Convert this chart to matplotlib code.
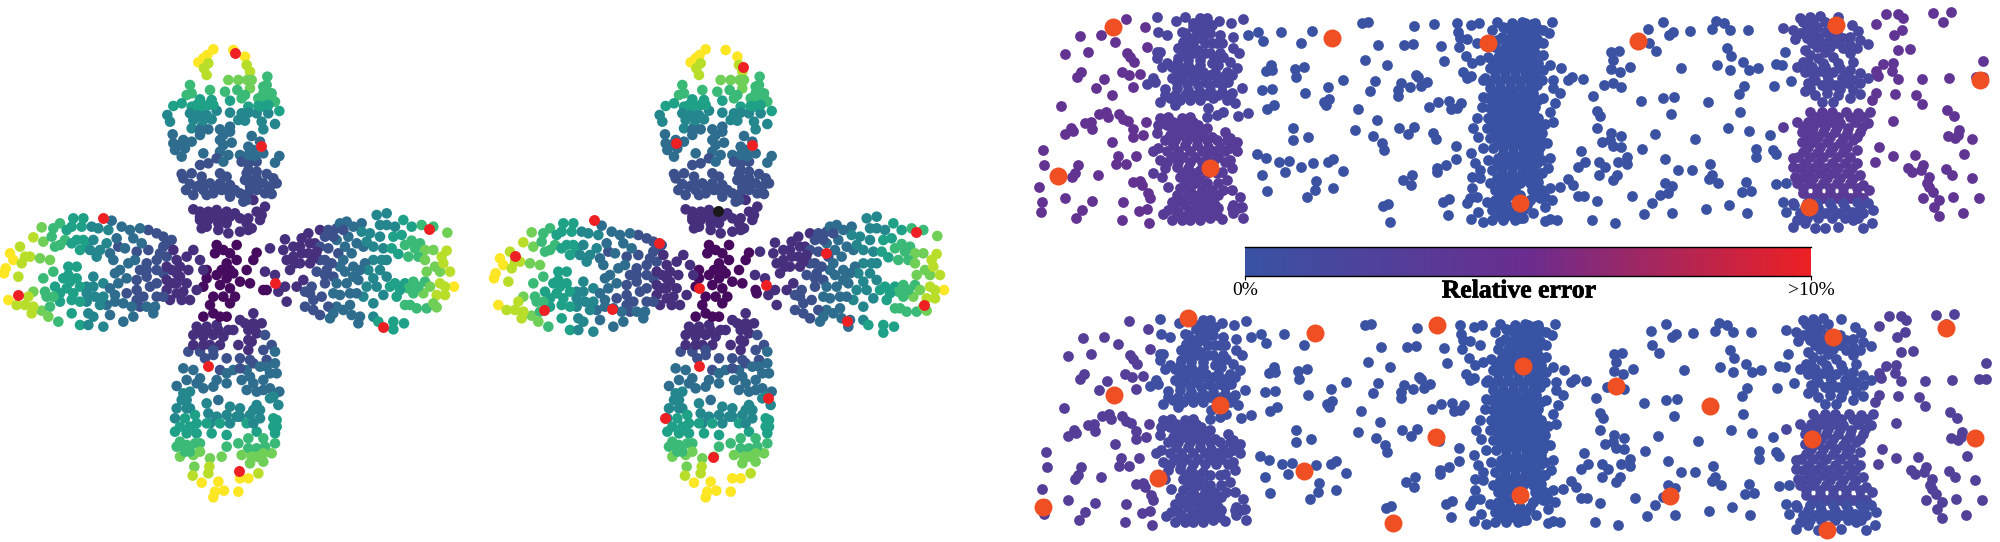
import numpy as np
import matplotlib
matplotlib.use('Agg')
import matplotlib.pyplot as plt
import matplotlib.patheffects as pe
from matplotlib.colors import LinearSegmentedColormap

# flower mesh, (x, y, level 0-9)
hub = [(650,645,0),(645,670,0),(670,660,0),(710,645,0),(690,670,0),(680,700,0),(710,690,0),(770,668,0),(760,690,0),(740,720,0),
       (620,720,0),(650,735,0),(680,745,0),(700,730,0),(720,755,0),(750,760,0),(660,765,0),(690,775,0),(620,745,0),(705,800,0),
       (640,800,0),(670,800,0),(630,825,0),(690,820,0),(665,720,0),(690,720,0),(610,770,0),(790,780,0)]
petal_top = [(640,58,9),(622,75,9),(700,60,9),(735,80,9),(610,85,9),(595,97,9),(625,100,8),(612,115,8),(620,135,8),(740,105,8),
       (750,125,8),(742,150,7),(755,150,7),(685,150,7),(715,150,7),(802,140,6),(800,165,6),(570,165,6),(575,190,6),(560,195,6),
       (630,180,6),(675,185,6),(712,180,6),(750,175,7),(735,195,6),(790,190,6),(815,190,6),(775,205,6),(800,210,6),(825,215,6),
       (600,208,5),(635,210,5),(690,212,5),(725,205,6),(520,228,5),(545,220,5),(575,230,5),(625,225,5),(790,230,5),(838,243,5),
       (502,255,4),(510,275,4),(570,250,4),(600,245,4),(650,242,4),(690,248,4),(725,250,4),(770,250,4),(805,250,4),(580,270,4),
       (610,270,4),(635,268,4),(735,272,4),(715,270,4),(785,275,4),(825,282,4),(575,295,4),(605,290,4),(625,298,3),(660,298,3),
       (690,290,3),(790,298,4),(600,315,3),(670,315,3),(518,313,3),(660,330,3),(695,338,3),(755,318,3),(780,335,3),(520,340,3),
       (550,330,3),(575,335,3),(525,360,3),(555,355,3),(545,380,3),(610,370,3),(660,365,3),(685,375,3),(720,375,3),(745,350,3),
       (760,360,3),(790,370,3),(838,378,3),(825,398,3),(650,385,2),(670,395,3),(725,395,2),(745,400,2),(770,395,2),(600,405,2),
       (625,400,2),(545,432,2),(575,430,2),(550,445,2),(605,440,2),(660,430,2),(680,440,2),(740,430,2),(770,425,2),(800,432,2),
       (820,445,2),(830,460,2),(600,465,2),(630,460,2),(660,460,2),(690,465,2),(735,450,2),(760,450,2),(790,460,2),(810,470,2),
       (558,480,2),(580,495,2),(610,480,2),(640,490,2),(665,480,2),(690,500,2),(720,490,2),(745,490,2),(770,480,2),(795,490,2),
       (815,492,2),(730,515,2),(760,510,1),(580,538,1),(600,545,1),(625,545,1),(650,540,1),(680,545,1),(705,550,1),(770,545,1),
       (795,530,1),(600,570,1),(645,560,1),(675,565,1),(720,565,1),(745,565,1),(785,555,1),(605,595,1),(655,600,1),(680,580,1),
       (685,610,1),(720,605,1),(755,595,1),(740,580,1),
       (800,185,6),(790,170,6),(815,205,6),(805,225,5),(775,228,5),(745,230,5),(745,248,4),(640,225,5),(590,225,5),(605,228,5),
       (590,260,4),(620,255,4),(600,300,3),(690,305,3),(670,345,3),(540,345,3),(745,375,3),(765,378,3),(745,420,2),(770,445,2),
       (570,462,2),(640,470,2),(610,462,2),(680,480,2),(705,480,2),(750,470,2),(775,465,2),(590,470,2),(620,495,2),(740,510,2),
       (600,560,1),(625,570,1),(660,575,1),(690,560,1),(655,580,1),(780,570,1),(620,590,1),(665,555,1),(745,600,1)]
petal_right = [(855,628,1),(810,655,1),(795,725,1),(825,735,1),(850,660,1),(880,680,1),(905,625,1),(925,610,1),(900,650,1),(925,670,1),
       (945,640,1),(960,600,1),(860,690,1),(900,700,1),(930,700,1),(855,770,1),(835,785,1),(860,815,1),(800,780,0),(910,750,1),
       (890,770,1),(915,785,2),(950,725,2),(975,690,2),(985,655,2),(960,650,2),(985,600,2),(1010,595,2),(1040,575,3),(1020,580,3),
       (1010,630,3),(1045,620,3),(1015,670,2),(1055,670,3),(1085,580,3),(1085,605,4),(1110,610,4),(1130,555,4),(1160,550,4),(1160,585,4),
       (1140,585,4),(1185,590,4),(1210,570,5),(1235,590,5),(1265,585,6),(1300,590,6),(1342,608,7),(1205,615,5),(1235,632,6),(1260,640,6),
       (1275,660,7),(1325,680,8),(1340,662,8),(1300,660,7),(1195,672,5),(1225,680,6),(1255,680,6),(1150,655,4),(1120,650,4),(1090,650,3),
       (1120,690,4),(1160,690,4),(1095,700,3),(1060,710,3),(1020,710,3),(1000,740,2),(975,760,2),(965,800,2),(915,830,2),(940,810,2),
       (960,855,2),(990,865,3),(1010,830,3),(1050,825,3),(1080,860,3),(1075,880,3),(1040,760,3),(1075,750,3),(1050,790,3),(1090,800,4),
       (1120,820,4),(1130,770,4),(1160,740,4),(1185,760,5),(1190,800,5),(1215,760,5),(1240,755,6),(1275,755,6),(1280,725,7),(1320,725,7),
       (1350,725,8),(1362,770,9),(1320,760,8),(1310,795,8),(1335,795,8),(1270,790,7),(1240,790,6),(1215,825,6),(1250,835,6),(1280,835,6),
       (1310,832,7),(1120,860,4),(1135,875,5),(1180,875,5),(1180,898,5),(1212,880,5),(935,770,2),(1000,790,3),(1010,760,3),(1105,720,4),
       (1140,720,4),(1030,690,3),(960,690,2),(1060,740,3),(980,720,2),
       (880,650,1),(905,670,1),(885,700,1),(870,720,1),(930,640,1),(950,665,1),(940,685,1),(975,620,2),(1000,620,2),(1030,600,2),
       (1060,590,3),(1035,650,3),(1070,640,3),(1100,635,4),(1140,620,4),(1180,620,5),(1175,655,5),(1215,645,6),(1245,655,6),(1275,690,7),
       (1305,710,7),(1330,700,8),(1290,770,7),(1255,770,6),(1300,820,7),(1335,770,8),(1230,825,6),(1225,775,6),(1200,780,5),(1170,770,5),
       (1150,795,4),(1020,795,3),(1030,840,3),(985,830,2),(940,840,2),(930,790,2),(995,700,2),(1035,725,3),(1080,720,3),(1120,745,4),
       (1100,770,4),(1070,790,3),(1000,850,3),(1055,855,3),(975,735,2),(1145,690,4)]
petal_left = [(600,690,1),(580,660,1),(560,680,1),(610,720,1),(590,780,1),(560,760,1),(565,720,1),(530,790,1),(545,810,1),(520,760,1),
       (515,720,1),(530,690,1),(515,630,2),(490,620,2),(470,610,2),(445,600,2),(420,595,3),(390,600,3),(365,590,3),(335,572,3),
       (355,650,2),(375,655,3),(410,665,2),(445,660,2),(490,650,2),(500,680,2),(470,690,2),(440,700,2),(405,690,3),(360,720,3),
       (340,690,3),(320,640,4),(290,680,4),(300,660,4),(325,600,4),(295,595,4),(260,640,5),(230,630,5),(240,660,5),(275,590,4),
       (250,565,5),(220,565,5),(180,580,6),(160,595,6),(125,592,7),(100,622,8),(200,600,5),(195,630,6),(165,650,6),(130,635,7),
       (60,650,8),(30,670,9),(40,690,9),(65,700,8),(90,680,8),(120,685,7),(150,690,7),(17,715,9),(12,730,9),(55,740,8),
       (130,745,6),(160,725,6),(205,710,5),(230,710,5),(190,745,5),(230,745,5),(200,775,5),(165,770,5),(135,785,6),(100,785,7),
       (85,800,8),(25,810,9),(50,825,8),(75,825,8),(95,850,8),(125,842,7),(150,830,6),(145,860,7),(175,875,6),(215,810,5),
       (215,850,5),(240,885,5),(265,885,4),(310,890,4),(260,770,4),(280,740,4),(310,760,4),(260,815,4),(265,850,4),(320,825,3),
       (345,815,3),(330,855,3),(370,875,3),(400,860,3),(430,800,2),(420,830,2),(460,850,3),(410,750,2),(440,740,2),(380,790,2),
       (380,745,3),(345,730,3),(310,800,4),(470,760,2),(500,780,1),(530,760,1),(470,800,2),(510,810,1),(490,730,2),(450,770,2),(355,760,3),
       (500,640,2),(520,660,1),(480,670,2),(540,710,1),(540,740,1),(500,710,1),(470,720,2),(440,720,2),(420,720,2),(410,780,2),
       (410,810,2),(440,830,3),(395,830,3),(370,820,3),(385,700,3),(425,640,3),(400,625,3),(350,625,3),(330,670,3),(270,660,4),
       (250,630,5),(215,640,5),(180,645,6),(215,590,5),(245,590,5),(280,630,4),(155,620,6),(75,680,8),(205,735,5),(210,755,5),
       (180,790,5),(180,815,5),(220,790,5),(140,800,6),(160,800,6),(100,830,8),(240,770,5),(280,770,4),(285,800,4),(260,790,4),
       (240,815,5),(300,825,4),(280,860,4),(330,775,3),(345,795,3),(465,830,3),(490,800,2),(500,750,1),(530,730,1),(570,810,1),(550,785,1)]
petal_bottom = [(610,860,0),(640,850,0),(680,860,0),(720,870,1),(760,850,1),(785,880,1),(590,890,1),(620,890,1),(650,885,1),(580,915,1),
       (610,920,1),(640,915,1),(670,920,1),(700,900,1),(745,900,1),(770,910,1),(755,935,1),(795,915,2),(715,945,1),(745,960,1),
       (630,945,1),(660,945,1),(565,965,2),(600,965,2),(640,975,2),(790,960,2),(815,945,2),(825,965,3),(680,985,2),(720,985,2),
       (750,990,2),(800,990,2),(825,1000,3),(830,1030,3),(800,1010,3),(550,1015,3),(580,1020,3),(660,1020,2),(700,1020,3),(740,1020,3),
       (560,1050,3),(600,1045,3),(650,1050,3),(680,1060,3),(725,1050,3),(750,1040,3),(790,1050,3),(530,1068,3),(570,1085,4),(610,1075,3),
       (740,1080,3),(770,1085,3),(810,1075,3),(838,1085,3),(560,1110,4),(810,1105,4),(835,1125,4),(655,1110,3),(620,1120,4),(530,1135,4),
       (560,1135,4),(625,1150,4),(690,1130,4),(720,1135,4),(770,1125,4),(525,1165,4),(555,1165,5),(650,1160,4),(680,1155,4),(720,1160,4),
       (750,1155,4),(780,1165,4),(820,1165,5),(590,1180,5),(630,1180,4),(660,1180,5),(740,1180,5),(830,1190,5),(525,1205,5),(560,1210,5),
       (590,1210,5),(635,1210,5),(680,1215,5),(770,1205,5),(825,1210,5),(790,1225,6),(530,1250,6),(560,1245,6),(600,1240,6),(825,1240,6),
       (680,1250,6),(715,1240,6),(745,1255,6),(770,1255,6),(540,1280,7),(580,1275,7),(725,1275,7),(755,1280,7),(790,1295,7),(815,1270,7),
       (665,1280,7),(630,1285,7),(583,1310,7),(628,1310,8),(578,1337,8),(625,1330,8),(775,1330,8),(720,1345,9),(745,1345,9),(605,1358,9),
       (655,1355,9),(672,1382,9),(715,1385,9),(645,1385,9),(640,1402,9),
       (660,860,0),(600,905,1),(625,905,1),(655,900,1),(685,900,1),(735,880,1),(760,880,1),(745,930,1),(765,890,1),(580,945,1),
       (610,945,1),(640,960,2),(615,985,2),(760,1000,2),(780,1010,3),(810,1030,3),(720,1015,2),(680,1030,3),(590,1060,3),(640,1070,3),
       (760,1060,3),(790,1080,3),(820,1100,4),(545,1110,4),(550,1090,4),(570,1135,4),(585,1155,5),(690,1180,4),(710,1160,4),(760,1180,4),
       (780,1140,4),(760,1140,4),(620,1180,5),(540,1190,5),(570,1190,5),(585,1240,6),(570,1265,6),(600,1265,7),(745,1225,6),(795,1250,6),
       (770,1280,7),(750,1300,7),(790,1270,7),(555,1265,6),(540,1235,6),(830,1170,5),(820,1190,5)]
flower_a_red = [(705,70),(782,349),(308,564),(824,760),(54,796),(1288,597),(1149,890),(625,1007),(716,1322)]
flower_b_red = [(789,112),(587,339),(817,345),(341,570),(537,638),(105,677),(1037,670),(658,775),(858,764),(192,840),(397,837),
       (1307,605),(1332,824),(1102,873),(658,1007),(865,1105),(555,1165),(700,1280)]
flower_b_black = [(713,542)]

far_left = [(289,57),(150,107),(213,105),(255,127),(104,162),(173,157),(345,80),(140,230),(153,216),(222,237),(199,264),(245,285),
       (275,217),(297,225),(330,222),(308,261),(290,160),(300,172),(312,185),(352,140),(92,318),(207,343),(227,337),(235,350),(268,343),
       (280,358),(293,362),(165,370),(183,365),(186,388),(104,401),(122,385),(130,392),(308,387),(310,410),(340,405),(348,365),(246,427),
       (40,449),(43,495),(143,494),(135,520),(125,530),(204,525),(265,467),(257,492),(287,491),(318,468),(28,560),(37,607),(32,636),
       (105,593),(187,603),(155,629),(138,653),(278,607),(277,661),(327,632),(350,628),(357,670),(310,545),(330,542),(335,555),(355,580),(360,595)]
block_a_upper = [(380,52),(438,64),(465,50),(510,55),(530,55),(568,62),(604,68),(638,58),(385,95),(410,105),(455,95),(490,80),(520,85),
       (540,100),(570,105),(480,115),(510,115),(545,130),(575,130),(445,145),(475,145),(505,150),(540,160),(570,160),(610,110),(610,145),
       (628,158),(380,155),(390,155),(380,175),(445,175),(475,180),(510,180),(545,190),(580,170),(600,185),(395,200),(425,200),(460,205),
       (490,210),(520,215),(555,215),(590,215),(620,205),(425,235),(455,235),(490,240),(525,245),(560,245),(595,245),(405,268),(440,265),
       (475,270),(510,275),(540,270),(575,275),(605,280),(637,263),(390,305),(420,295),(450,300),(480,300),(510,300),(550,295),(590,300),
       (615,310),(435,315),(535,325),(530,350),(560,345),(580,335),(625,347),(655,338),(350,252),(368,235),(375,245),
       (490,70),(515,70),(545,75),(465,100),(500,100),(530,100),(460,125),(490,130),(525,130),(560,130),(460,160),(490,160),(525,160),(555,175),
       (410,190),(440,190),(475,195),(510,195),(565,195),(440,220),(475,220),(505,225),(540,225),(575,230),(605,225),(440,250),(470,252),
       (505,255),(540,255),(575,255),(405,285),(435,285),(465,285),(495,285),(530,285),(565,285),(600,285)]
block_a_lower = [(390,355),(415,350),(385,375),(410,375),(455,355),(480,350),(445,380),(475,380),(505,375),(530,385),(380,400),(420,405),
       (450,405),(485,405),(515,405),(545,410),(585,395),(600,415),(620,425),(620,452),(370,452),(385,445),(430,435),(465,435),(500,435),
       (535,440),(570,440),(600,445),(390,480),(425,470),(460,470),(495,470),(530,470),(565,470),(600,480),(405,505),(440,500),(475,505),
       (510,510),(575,515),(605,505),(370,520),(395,530),(415,560),(450,530),(480,535),(510,540),(590,540),(450,565),(480,570),(515,570),
       (545,570),(580,570),(605,570),(630,590),(425,605),(455,600),(490,600),(520,600),(550,600),(415,630),(445,635),(480,630),(510,630),
       (540,630),(565,625),(605,625),(625,625),(635,620),(400,642),(425,660),(455,660),(510,660),(575,658),(640,655),(480,660),(540,655),
       (430,365),(460,365),(490,365),(430,392),(460,392),(490,392),(520,392),(405,420),(435,420),(470,420),(500,420),(530,420),(560,420),
       (590,420),(410,452),(445,452),(480,452),(515,452),(550,452),(585,452),(410,485),(445,485),(480,485),(515,485),(550,485),(585,485),
       (460,520),(495,520),(530,520),(560,520),(465,550),(495,550),(530,550),(565,550),(440,585),(470,585),(505,585),(535,585),(565,585),
       (435,615),(465,615),(500,615),(530,615),(555,615),(610,615),(440,645),(470,645),(500,645),(530,645),(560,645),(610,640)]
gap_one = [(655,105),(685,97),(699,123),(753,96),(846,94),(812,129),(995,70),(1013,67),(1153,79),(1213,73),(1045,135),(1121,134),(1149,133),
       (1233,139),(1004,180),(1070,195),(1243,184),(722,195),(708,213),(727,210),(796,207),(823,200),(798,232),(939,241),(894,260),(1036,243),
       (1158,224),(1165,230),(1112,250),(1190,245),(1172,258),(1139,260),(1105,270),(1104,287),(697,271),(725,266),(826,280),(1021,274),
       (883,305),(898,298),(887,315),(712,326),(733,314),(984,326),(1196,322),(1224,307),(1256,302),(1292,308),(1262,326),(1281,325),(1041,359),
       (790,385),(788,420),(835,412),(976,391),(1030,407),(1107,384),(1153,381),(1135,403),(1208,400),(1218,417),(1055,428),(1063,450),(1279,437),
       (680,461),(708,473),(748,486),(777,484),(812,502),(849,490),(895,487),(910,478),(940,512),(765,516),(696,525),(1322,460),(1279,478),
       (1247,495),(1222,503),(1220,515),(1147,524),(1118,541),(1143,554),(858,544),(855,570),(908,565),(832,590),(711,574),(1060,617),(1075,612),
       (1240,606),(1258,596),(1255,644),(1081,665)]
block_b = [(1282,68),(1322,75),(1347,70),(1400,67),(1285,95),(1290,115),(1312,118),(1288,140),(1340,130),(1385,90),(1420,80),(1308,168),
       (1325,190),(1350,180),(1298,215),(1310,235),(1322,228),(1360,240),(1360,290),(1355,320),(1340,355),(1330,385),(1345,410),(1360,445),
       (1375,480),(1335,490),(1350,510),(1325,530),(1350,535),(1380,550),(1325,565),(1340,590),(1310,610),(1320,595),(1370,605),(1345,635),
       (1322,658),(1360,665),
       (1445,70),(1475,65),(1505,72),(1415,110),(1445,100),(1475,98),(1505,102),(1395,140),(1425,140),(1455,130),(1485,132),(1515,135),
       (1375,170),(1405,170),(1435,162),(1465,165),(1495,165),(1380,205),(1410,200),(1440,195),(1470,198),(1500,200),(1365,235),(1395,232),
       (1425,230),(1455,228),(1485,230),(1515,225),(1380,265),(1410,262),(1440,265),(1470,258),(1500,265),(1375,295),(1405,295),(1435,295),
       (1465,290),(1495,290),(1525,300),(1380,325),(1410,325),(1440,325),(1470,322),(1500,325),(1375,355),(1405,355),(1435,355),(1465,352),
       (1495,352),(1525,355),(1370,385),(1400,385),(1430,385),(1460,385),(1490,385),(1520,385),(1380,415),(1410,415),(1440,415),(1470,415),
       (1500,415),(1530,415),(1390,445),(1420,445),(1450,445),(1480,445),(1510,445),(1405,475),(1435,475),(1465,475),(1495,475),(1525,475),
       (1385,510),(1415,505),(1445,505),(1475,505),(1505,505),(1400,535),(1430,535),(1460,535),(1490,535),(1520,540),(1395,570),(1425,565),
       (1455,565),(1505,570),(1535,570),(1395,600),(1425,600),(1500,600),(1530,595),(1385,630),(1415,630),(1445,630),(1475,630),(1385,660),
       (1420,660),(1455,660),(1480,655),
       (1430,85),(1460,85),(1490,85),(1520,85),(1400,120),(1430,120),(1460,115),(1490,115),(1520,118),(1410,155),(1440,148),(1470,148),(1500,150),
       (1390,185),(1420,185),(1450,180),(1480,180),(1510,180),(1395,215),(1425,215),(1455,212),(1485,215),(1515,205),(1380,248),(1410,245),
       (1440,245),(1470,245),(1500,245),(1390,280),(1420,280),(1450,280),(1480,278),(1510,280),(1390,310),(1420,310),(1450,310),(1480,305),
       (1510,312),(1390,340),(1420,340),(1450,340),(1480,338),(1510,338),(1390,370),(1420,370),(1450,370),(1480,368),(1510,370),(1395,400),
       (1425,400),(1455,400),(1485,400),(1515,400),(1405,430),(1435,430),(1465,430),(1495,430),(1525,430),(1420,460),(1450,460),(1480,460),
       (1510,460),(1400,490),(1430,490),(1460,490),(1490,490),(1520,490),(1415,520),(1445,520),(1475,520),(1505,520),(1535,520),(1410,550),
       (1440,550),(1470,550),(1500,550),(1410,585),(1440,585),(1470,585),(1515,585),(1400,615),(1430,615),(1460,615),(1490,615),(1400,645),
       (1435,645),(1465,645)]
RIGHT_X0 = 1440
block_b_right = [(126,65),(118,100),(100,90),(100,130),(75,160),(100,165),(120,195),(100,210),(95,240),(128,240),(130,265),(150,280),(100,295),
       (135,310),(120,335),(130,365),(105,372),(80,375),(110,430),(120,475),(115,505),(90,520),(90,570),(120,565),(125,600),(105,622),(105,663),
       (140,660),(120,658),(75,70),(75,110),(70,230),(70,300),(70,340),(75,420),(85,460),(70,540),(60,600),
       (45,70),(60,85),(45,105),(40,130),(70,135),(45,160),(60,190),(85,190),(60,215),(80,255),(60,270),(75,320),(55,320),(50,355),
       (70,400),(95,400),(60,440),(90,440),(95,480),(65,480),(65,510),(40,540),(85,545),(105,590),(75,580),(40,630),(70,640),(30,655)]
gap_two = [(152,205),(175,240),(185,232),(220,238),(283,255),(310,248),(333,260),(248,287),(302,155),(326,153),(308,180),(303,208),(331,215),
       (359,202),(414,88),(459,66),(418,128),(437,152),(478,105),(488,97),(541,94),(617,62),(642,70),(606,88),(661,89),(713,89),(651,145),(662,167),
       (698,185),(622,196),(659,211),(716,210),(745,203),(798,193),(815,195),(512,203),(825,155),(843,242),(791,257),(703,258),(687,281),
       (392,303),(459,293),(492,292),(595,307),(262,332),(271,348),(482,342),(691,336),(262,383),(655,383),(717,394),(779,405),(302,400),(332,407),
       (300,420),(275,426),(310,438),(334,441),(434,402),(556,416),(395,446),(738,447),(738,470),(790,450),(797,462),(214,453),(225,487),(203,502),
       (268,487),(285,502),(267,525),(320,525),(310,540),(325,485),(350,470),(350,493),(465,476),(505,511),(546,509),(600,491),(606,524),(596,538),
       (625,550),(173,538),(150,560),(190,555),(205,587),(222,587),(262,604),(247,659),(315,669),(366,589),(426,610),(450,585),(465,548),(485,558),
       (475,580),(402,641),(486,640),(588,627),(657,616),(712,639),(709,545),(697,575),(722,573),(797,553),(828,550),(820,605),(827,635),(853,615)]
block_c_upper = [(818,85),(850,90),(870,55),(900,50),(930,48),(985,50),(1025,75),(1045,92),(890,85),(920,80),(855,118),(890,115),(925,110),
       (960,110),(1000,115),(1050,120),(1075,133),(1040,145),(885,150),(920,140),(960,140),(1000,145),(1020,160),(880,185),(925,175),(970,170),
       (1030,185),(860,200),(905,200),(945,200),(990,205),(1020,210),(910,225),(950,225),(995,235),(1050,220),(1050,248),(1075,235),(1100,225),
       (895,250),(935,255),(975,255),(1015,250),(885,272),(915,285),(950,280),(985,285),(1020,295),(1050,283),(935,305),(970,305),
       (880,65),(910,65),(945,65),(870,100),(905,100),(945,95),(980,100),(1020,110),(905,130),(940,128),(980,130),(1020,135),(900,165),(945,155),
       (895,190),(940,188),(985,190),(885,215),(930,212),(970,215),(1010,225),(915,240),(955,240),(995,250),(1030,240),(900,265),(950,265),(990,268),(1030,270)]
block_c_lower = [(900,335),(935,335),(965,335),(1007,335),(1045,340),(1080,335),(820,380),(860,365),(895,365),(930,365),(960,365),(990,370),
       (1035,365),(1075,368),(875,395),(905,395),(940,395),(975,395),(1010,400),(1050,395),(875,425),(910,425),(950,425),(990,430),(1030,420),
       (850,475),(880,455),(920,460),(960,455),(1000,455),(1040,450),(850,500),(885,490),(925,490),(965,490),(1005,490),(1040,490),(855,530),
       (890,520),(930,520),(970,520),(1010,520),(1050,525),(860,550),(900,550),(940,550),(980,550),(1020,550),(1060,555),(1077,570),(880,580),
       (920,580),(960,580),(1000,580),(1040,585),
       (915,350),(950,350),(985,350),(1020,350),(1060,352),(880,380),(910,380),(945,380),(980,380),(1015,385),(1055,380),(890,410),(925,410),
       (960,410),(1000,415),(1040,410),(895,440),(930,440),(970,440),(1010,440),(865,472),(900,472),(940,472),(980,472),(1020,472),(870,505),
       (905,505),(945,505),(985,505),(1025,505),(875,535),(910,535),(950,535),(990,535),(1030,535),(880,565),(920,565),(960,565),(1000,565),
       (1040,565),(900,595),(940,595),(980,595),(1020,595),(1060,595)]
block_c_foot = [(850,610),(920,610),(960,610),(1000,610),(1040,605),(1075,610),(1088,630),(870,640),(905,640),(945,640),(985,640),(1025,635),
       (1060,640),(860,660),(850,680),(885,670),(915,685),(945,685),(985,680),(1030,660),(1060,685),(1087,668),(890,610),
       (885,625),(925,625),(965,625),(1005,625),(1050,625),(890,655),(925,655),(965,655),(1005,655),(1045,655)]
far_right = [(1127,42),(1163,42),(1178,55),(1099,72),(1270,38),(1322,35),(1298,67),(1175,90),(1153,105),(1165,150),(1199,148),(1120,192),(1150,190),
       (1145,213),(1098,212),(1105,228),(1165,237),(1236,236),(1318,233),(1419,183),(1398,232),(1420,232),(1155,282),(1098,280),(1085,300),
       (1217,285),(1236,311),(1310,331),(1331,348),(1148,362),(1348,390),(1313,407),(1335,415),(1345,405),(1385,417),(1107,442),(1150,468),
       (1215,466),(1363,463),(1096,486),(1195,503),(1205,517),(1238,495),(1233,510),(1307,508),(1325,525),(1385,533),(1258,530),(1250,548),
       (1258,560),(1268,576),(1238,595),(1288,600),(1330,590),(1408,593),(1272,620),(1287,647),(1360,638)]
# relative error of each group, fraction of the colour bar: top strip, bottom strip
err_far_left = (0.42, 0.28)
err_block_a_upper = (0.17, 0.06)
err_block_a_lower = (0.30, 0.14)
err_gap = (0.02, 0.02)
err_block_b = (0.01, 0.0)
err_block_c_upper = (0.15, 0.06)
err_block_c_lower = (0.32, 0.15)
err_block_c_foot = (0.10, 0.06)
err_far_right = (0.40, 0.25)
top_orange = [(248,82),(906,115),(85,528),(541,505),(1373,128),(1823,122),(2417,74),(2849,240),(1470,608),(2337,622)]
bottom_orange = [(465,49),(846,92),(1213,70),(243,278),(561,309),(375,527),(1208,404),(813,507),(31,614),(1079,664),
       (1471,191),(1748,251),(2031,313),(2399,105),(2740,78),(2338,411),(2827,408),(1912,582),(1462,578),(2383,684)]
bar_labels = ['0%', '>10%']
bar_title = 'Relative error'

W, H = 2000, 542
SCALE = 3
err_cmap = LinearSegmentedColormap.from_list('err', ['#3953a4', '#6b2d8f', '#ee2024'])

def panel(fig, x, y, w, h):
    ax = fig.add_axes([x/W, 1-(y+h)/H, w/W, h/H])
    ax.set_xlim(0, w*SCALE)
    ax.set_ylim(h*SCALE, 0)
    ax.axis('off')
    return ax

def draw_flower(ax, dx_top, dy_top, dx_side_l, dy_side_l, dx_side_r, dy_side_r):
    groups = [(hub, dx_top, dy_top), (petal_top, dx_top, dy_top), (petal_bottom, dx_top, dy_top),
              (petal_left, dx_side_l, dy_side_l), (petal_right, dx_side_r, dy_side_r)]
    for pts, dx, dy in groups:
        a = np.array(pts, dtype=float)
        ax.scatter(a[:,0]+dx, a[:,1]+dy, c=0.03+0.97*a[:,2]/9, cmap='viridis', vmin=0, vmax=1, s=58, linewidths=0)

def draw_strip(ax, which):
    groups = [(far_left, 0, err_far_left), (block_a_upper, 0, err_block_a_upper), (block_a_lower, 0, err_block_a_lower),
              (gap_one, 0, err_gap), (block_b, 0, err_block_b), (block_b_right, RIGHT_X0, err_block_b),
              (gap_two, RIGHT_X0, err_gap), (block_c_upper, RIGHT_X0, err_block_c_upper),
              (block_c_lower, RIGHT_X0, err_block_c_lower), (block_c_foot, RIGHT_X0, err_block_c_foot),
              (far_right, RIGHT_X0, err_far_right)]
    for pts, x0, err in groups:
        a = np.array(pts, dtype=float)
        ax.scatter(a[:,0]+x0, a[:,1], color=err_cmap(err[which]), s=60, linewidths=0)

fig = plt.figure(figsize=(W/100, H/100), dpi=100)

ax = panel(fig, 0, 30, 470, 480)
draw_flower(ax, 0, 0, 0, 0, 0, 0)
a = np.array(flower_a_red)
ax.scatter(a[:,0], a[:,1], color='#ee2024', s=62, linewidths=0, zorder=3)

ax = panel(fig, 480, 30, 470, 480)
draw_flower(ax, 37, 0, 30, 15, 30, 10)
a = np.array(flower_b_red)
ax.scatter(a[:,0], a[:,1], color='#ee2024', s=62, linewidths=0, zorder=3)
a = np.array(flower_b_black)
ax.scatter(a[:,0], a[:,1], color='#1a1a1a', s=62, linewidths=0, zorder=3)

ax = panel(fig, 1030, 0, 960, 240)
draw_strip(ax, 0)
a = np.array(top_orange)
ax.scatter(a[:,0], a[:,1], color='#f04e23', s=168, linewidths=0, zorder=3)

ax = panel(fig, 1033, 302, 960, 240)
draw_strip(ax, 1)
a = np.array(bottom_orange)
ax.scatter(a[:,0], a[:,1], color='#f04e23', s=168, linewidths=0, zorder=3)

# colour bar
cax = fig.add_axes([1245/W, 1-276/H, 566/W, 29/H])
cax.imshow(np.linspace(0, 1, 512).reshape(1, -1), aspect='auto', cmap=err_cmap, extent=[0, 1, 0, 1])
cax.set_yticks([])
cax.set_xticks([0, 1], labels=bar_labels, family='Liberation Serif', fontsize=14)
cax.tick_params(axis='x', length=3, width=0.8, pad=1)
for s in ['left', 'right']:
    cax.spines[s].set_visible(False)
for s in ['top', 'bottom']:
    cax.spines[s].set_linewidth(1.0)
fig.text(1519/W, 1-291/H, bar_title, ha='center', va='center', family='Liberation Serif', fontweight='bold',
         fontsize=18.5, path_effects=[pe.withStroke(linewidth=0.5, foreground='black')])

fig.savefig('out.png', dpi=100)
